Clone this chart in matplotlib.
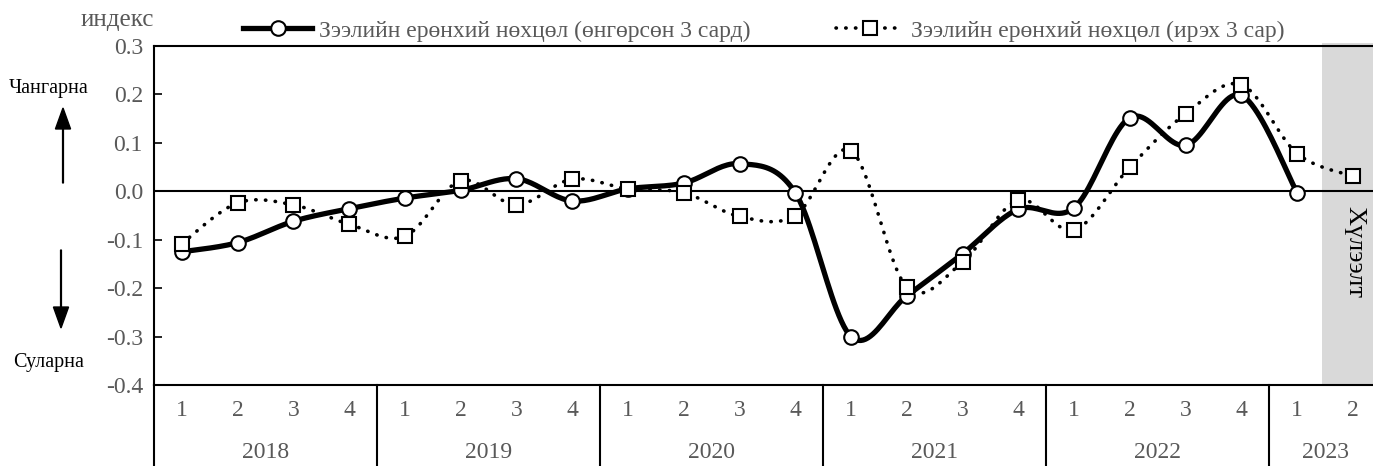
import numpy as np
import matplotlib
matplotlib.use("Agg")
import matplotlib.pyplot as plt
from matplotlib.lines import Line2D
import matplotlib.transforms as mtransforms

plt.rcParams["font.family"] = ["Liberation Serif", "DejaVu Serif"]

# Data
years = ["2018", "2019", "2020", "2021", "2022", "2023"]
quarters_per_year = [4, 4, 4, 4, 4, 2]
quarter_labels = ["1", "2", "3", "4"] * 5 + ["1", "2"]

past_3m = [-0.125, -0.106, -0.062, -0.036, -0.014, 0.002, 0.026, -0.020,
           0.005, 0.017, 0.057, -0.003, -0.300, -0.216, -0.129, -0.037,
           -0.034, 0.152, 0.095, 0.198, -0.003]
next_3m = [-0.108, -0.024, -0.028, -0.068, -0.093, 0.022, -0.028, 0.025,
           0.005, -0.003, -0.052, -0.050, 0.084, -0.198, -0.146, -0.018,
           -0.080, 0.050, 0.160, 0.220, 0.078, 0.031]
y_ticks = [-0.4, -0.3, -0.2, -0.1, 0.0, 0.1, 0.2, 0.3]

label_past = "Зээлийн ерөнхий нөхцөл (өнгөрсөн 3 сард)"
label_next = "Зээлийн ерөнхий нөхцөл (ирэх 3 сар)"
grey = "#595959"


def smooth(y, n=24):
    # Excel-style smoothed line (Catmull-Rom / Bezier)
    y = np.asarray(y, dtype=float)
    x = np.arange(len(y), dtype=float)
    pts = np.column_stack([x, y])
    out = []
    for i in range(len(pts) - 1):
        p0 = pts[max(i - 1, 0)]
        p1 = pts[i]
        p2 = pts[i + 1]
        p3 = pts[min(i + 2, len(pts) - 1)]
        c1 = p1 + (p2 - p0) / 6
        c2 = p2 - (p3 - p1) / 6
        t = np.linspace(0, 1, n)[:, None]
        seg = ((1 - t) ** 3) * p1 + 3 * ((1 - t) ** 2) * t * c1 \
            + 3 * (1 - t) * t ** 2 * c2 + t ** 3 * p2
        out.append(seg if i == 0 else seg[1:])
    out = np.vstack(out)
    return out[:, 0], out[:, 1]


fig = plt.figure(figsize=(13.73, 4.66), dpi=100)
ax = fig.add_axes([154 / 1373, 1 - 385 / 466, 1 - 154 / 1373, 339 / 466])

n = len(next_3m)
ax.set_xlim(-0.5, n - 0.64)
ax.set_ylim(-0.4, 0.3)

# forecast shading
ax.axvspan(n - 1.55, n + 1, ymin=0, ymax=1.01, color="#d9d9d9", zorder=0,
           clip_on=False, lw=0)
ax.text(n - 1.0 + 0.02, -0.125, "Хүлээлт", rotation=-90, ha="center",
        va="center", fontsize=19, color="black")

ax.axhline(0, color="black", lw=1.5, zorder=1)

xs, ys = smooth(past_3m)
ax.plot(xs, ys, color="black", lw=3.8, solid_capstyle="round", zorder=3)
ax.plot(range(len(past_3m)), past_3m, ls="none", marker="o", ms=10.5,
        mfc="white", mec="black", mew=1.5, zorder=4)

xs, ys = smooth(next_3m)
ax.plot(xs, ys, color="black", lw=2.6, ls=(0, (0.1, 2.6)),
        dash_capstyle="round", zorder=5)
ax.plot(range(n), next_3m, ls="none", marker="s", ms=10, mfc="white",
        mec="black", mew=1.5, zorder=6)

# y axis
ax.set_yticks(y_ticks)
ax.set_yticklabels([f"{v:.1f}" for v in y_ticks])
ax.tick_params(axis="y", direction="in", length=6, width=1.2, labelsize=17,
               labelcolor=grey, pad=8)
ax.set_xticks([])
for s in ["left", "bottom", "top"]:
    ax.spines[s].set_linewidth(1.5)
ax.spines["right"].set_visible(False)

# category axis (quarters + years)
trans = mtransforms.blended_transform_factory(ax.transData, ax.transAxes)
for i, q in enumerate(quarter_labels):
    ax.text(i, -26 / 339, q, transform=trans, ha="center", va="center",
            fontsize=17, color=grey)
start = 0
for yr, k in zip(years, quarters_per_year):
    ax.text(start + (k - 1) / 2, -67 / 339, yr, transform=trans, ha="center",
            va="center", fontsize=17, color=grey)
    start += k
    if start < n:
        ax.add_line(Line2D([start - 0.5, start - 0.5], [0, -81 / 339],
                           transform=trans, color="black", lw=1.5,
                           clip_on=False))
ax.add_line(Line2D([-0.5, -0.5], [0, -81 / 339], transform=trans,
                   color="black", lw=1.5, clip_on=False))

# side annotations
fig.text(117 / 1373, 1 - 20 / 466, "индекс", ha="center", va="center",
         fontsize=18, color=grey)
fig.text(49 / 1373, 1 - 89 / 466, "Чангарна", ha="center", va="center",
         fontsize=14.5)
fig.text(49 / 1373, 1 - 362 / 466, "Суларна", ha="center", va="center",
         fontsize=14.5)
fig.patches.append(matplotlib.patches.FancyArrow(
    63 / 1373, 1 - 183 / 466, 0, 75 / 466, width=0.0006, head_width=0.011,
    head_length=0.045, length_includes_head=True, color="black",
    transform=fig.transFigure, figure=fig))
fig.patches.append(matplotlib.patches.FancyArrow(
    61 / 1373, 1 - 250 / 466, 0, -78 / 466, width=0.0006, head_width=0.011,
    head_length=0.045, length_includes_head=True, color="black",
    transform=fig.transFigure, figure=fig))

# legend
h1 = Line2D([], [], color="black", lw=3.8, marker="o", ms=10.5, mfc="white",
            mec="black", mew=1.5)
h2 = Line2D([], [], color="black", lw=2.6, ls=(0, (0.1, 2.6)),
            dash_capstyle="round", marker="s", ms=10, mfc="white",
            mec="black", mew=1.5)
leg = fig.legend([h1, h2], [label_past, label_next], loc="center",
                 bbox_to_anchor=(764 / 1373, 1 - 31 / 466), ncol=2,
                 frameon=False, fontsize=17, handlelength=2.9,
                 columnspacing=3.6, handletextpad=0.3)
for t in leg.get_texts():
    t.set_color(grey)

fig.savefig("out.png", dpi=100)
